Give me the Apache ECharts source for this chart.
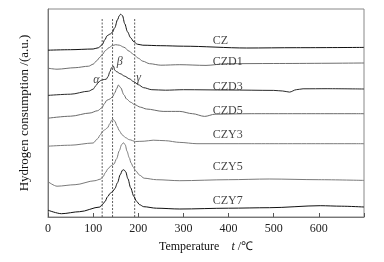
<!DOCTYPE html>
<html><head><meta charset="utf-8">
<script src="https://cdn.jsdelivr.net/npm/echarts@6/dist/echarts.min.js"></script>
<style>html,body{margin:0;padding:0;background:#fff}#c{width:384px;height:262px}</style>
</head><body><div id="c"></div>
<script>
var czT=[0,50,100,112,120,126,131,137,142,148,154,158,161,165,170,176,183,190,198,210,250,300,440,550,700];
var czV=[166.8,167.3,168,169.3,172.3,177.3,181.3,182.8,184.3,189.3,197.3,201.3,202.8,201.3,193.3,185.3,179.3,175.3,172.8,171.8,171.3,170.8,169,169.3,169.6];
var czd1T=[0,20,60,90,100,108,115,120,127,135,142,150,158,168,180,190,200,210,225,250,292,350,395,500,700];
var czd1V=[148.8,147.8,149.3,150.8,152.8,156.3,159.8,162.3,166.3,169.3,171.3,172.3,171.8,169.8,165.8,162.3,158.8,155.8,153.3,151.8,152.3,151.6,153.3,153.5,154];
var czd3T=[0,50,90,100,106,111,116,122,129,133,137,141,145,148,152,160,170,180,190,200,212,230,260,300,400,500,520,535,550,565,620,700];
var czd3V=[121.6,122.8,125.8,127.8,131.3,134.3,136.3,137.3,137.8,140.3,145.3,149.3,150.8,146.8,145.3,143.3,140.8,138.3,135.3,132.3,129.3,127.3,126.8,127.3,127,126.6,126,124.9,127.3,128.2,128.3,128];
var czd5T=[0,50,93,110,119,125,130,137,143,148,152,156,161,168,174,183,192,205,218,255,292,320,347,370,450,700];
var czd5V=[98.8,100.8,104,106.3,109,113.3,116.6,118,120.3,124.3,128.3,132,129.3,122.3,118,114.8,112.3,109.8,108,105.6,105.6,103.3,100.6,102.8,103.3,103.3];
var czy3T=[0,50,100,110,116,121,126,132,137,141,144,148,153,158,164,172,180,194,213,233,260,292,330,450,700];
var czy3V=[70.8,71.8,74,78.3,82.3,85.6,87.3,89.3,93.3,96.8,97.8,95.8,90.8,86.3,82.3,79.3,77.3,75.5,75.8,76.8,76.3,74.6,73.3,73.3,73.3];
var czy5T=[0,20,60,104,116,122,127,133,140,146,152,158,163,167,171,175,180,184,189,194,203,213,240,292,400,490,600,700];
var czy5V=[35.3,30.8,32.3,36.3,37.8,40.3,44.3,48.3,51.3,52.8,58.3,66.3,72.3,74.3,72.3,65.8,59.3,54,49.8,46.3,41.8,38.8,37.3,36.3,37.3,38,37.3,36.6];
var czy7T=[0,30,70,115,120,126,132,138,143,148,154,160,165,168,172,177,183,190,196,203,212,240,292,400,491,603,650,700];
var czy7V=[6.8,3.3,5.3,10,12.3,15.3,20.3,23.8,25.3,28.3,34.3,42.3,46.8,47.3,45.3,38.3,29.3,20.8,15.8,12.3,10.3,8.8,8,8.8,9.3,11.3,10.8,10];

var sampleNames=['CZ','CZD1','CZD3','CZD5','CZY3','CZY5','CZY7'];
var labelT=[365,365,365,365,365,365,365];
var labelV=[176.3,155.5,130.2,106.2,82.3,50.6,16.4];
var greek=['α','β','γ'];
var greekT=[107,159,201];
var greekV=[137.3,154.8,138.8];
var vLines=[120,143,192];
var vLineTop=199;
var xTicks=[0,100,200,300,400,500,600];

var FONT='Liberation Serif';
function pairs(t,v){return t.map(function(x,i){return [x,v[i]];});}
var curves=[[czT,czV,'#111'],[czd1T,czd1V,'#6e6e6e'],[czd3T,czd3V,'#2a2a2a'],[czd5T,czd5V,'#6a6a6a'],[czy3T,czy3V,'#7a7a7a'],[czy5T,czy5V,'#7a7a7a'],[czy7T,czy7V,'#111']];
var series=[];
curves.forEach(function(c,i){
  series.push({type:'line',name:sampleNames[i],data:pairs(c[0],c[1]),showSymbol:false,smooth:0.3,smoothMonotone:'x',
    lineStyle:{color:c[2],width:1},silent:true,z:3});
});
vLines.forEach(function(x){
  series.push({type:'line',data:[[x,0],[x,vLineTop]],showSymbol:false,lineStyle:{color:'#333',width:0.8,type:[2,1.5]},silent:true,z:2});
});
series.push({type:'scatter',symbolSize:0,data:labelT.map(function(t,i){return [t,labelV[i],sampleNames[i]];}),
  label:{show:true,position:'inside',align:'left',verticalAlign:'middle',formatter:function(p){return p.data[2];},
    fontFamily:FONT,fontSize:12,color:'#111'},silent:true,z:5});
series.push({type:'scatter',symbolSize:0,data:greekT.map(function(t,i){return [t,greekV[i],greek[i]];}),
  label:{show:true,position:'inside',align:'center',verticalAlign:'middle',formatter:function(p){return p.data[2];},
    fontFamily:FONT,fontSize:12,fontStyle:'italic',color:'#111'},silent:true,z:5});

var chart=echarts.init(document.getElementById('c'),null,{renderer:'canvas'});
chart.setOption({
  animation:false,
  backgroundColor:'#fff',
  grid:{left:48,right:20,top:9,bottom:45,show:true,borderColor:'#888',borderWidth:1,backgroundColor:'transparent'},
  xAxis:{type:'value',min:0,max:700,interval:100,
    name:'Temperature    {i|t} /℃',nameLocation:'middle',nameGap:24,
    nameTextStyle:{fontFamily:FONT,fontSize:12,color:'#111',rich:{i:{fontFamily:FONT,fontSize:12,fontStyle:'italic',color:'#111'}}},
    axisLine:{show:true,lineStyle:{color:'#777',width:1}},
    axisTick:{show:true,inside:true,length:4,lineStyle:{color:'#555'}},
    axisLabel:{margin:6,fontFamily:FONT,fontSize:12,color:'#222',formatter:function(v){return xTicks.indexOf(v)>=0?String(v):'';}},
    splitLine:{show:false}},
  yAxis:{type:'value',min:0,max:208,
    name:'Hydrogen consumption /(a.u.)',nameLocation:'middle',nameGap:17,
    nameTextStyle:{fontFamily:FONT,fontSize:13,color:'#111'},
    axisLine:{show:true,lineStyle:{color:'#777'}},axisTick:{show:false},axisLabel:{show:false},splitLine:{show:false}},
  series:series
});
</script></body></html>
